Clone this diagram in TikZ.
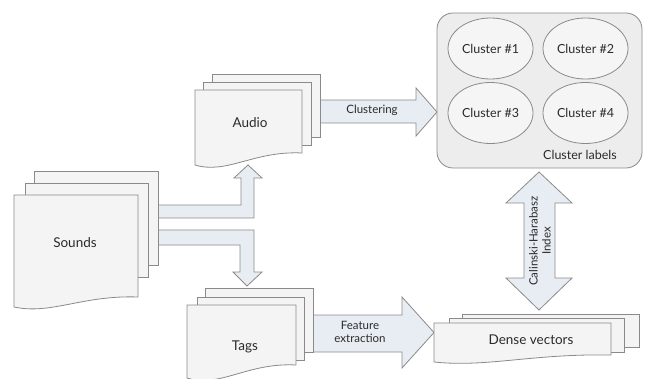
\documentclass[tikz,border=0pt]{standalone}
\usepackage{fontspec}
\setmainfont{Lato}
\usetikzlibrary{shapes.geometric}
\definecolor{pagefill}{HTML}{F4F4F4}
\definecolor{edge}{HTML}{8A8A8A}
\definecolor{arrowfill}{HTML}{E8EDF3}
\definecolor{boxfill}{HTML}{EDEDED}
\definecolor{ellfill}{HTML}{F5F5F5}
\definecolor{txt}{HTML}{2A2A2A}
\newcommand\backpage[4]{\path[pagestyle] (#1,#2) rectangle (#3,#4);}
\newcommand\frontpage[5]{\path[pagestyle] (#1,#2) -- (#3,#2) -- (#3,{#4-#5})
  .. controls ({#1+0.55*(#3-#1)},{#4-1.2*#5}) and ({#1+0.3*(#3-#1)},{#4+0.8*#5}) .. (#1,#4) -- cycle;}
\begin{document}
\begin{tikzpicture}[x=1pt,y=-1pt,
  pagestyle/.style={draw=edge,fill=pagefill,line width=0.8pt},
  blockarrow/.style={draw=edge,fill=arrowfill,line width=0.8pt,line join=miter},
  lbl/.style={text=txt,font=\fontsize{13.5}{15}\selectfont,inner sep=0pt},
  albl/.style={text=txt,font=\fontsize{11.5}{13}\selectfont,inner sep=0pt,align=center},
  clus/.style={ellipse,draw=edge,fill=ellfill,line width=0.8pt,minimum width=85pt,minimum height=61pt,inner sep=0pt,text=txt,font=\fontsize{12.5}{14}\selectfont}]
\useasboundingbox (0,0) rectangle (647,379);
% block arrows
\path[blockarrow] (156,205) -- (241,205) -- (241,178) -- (234,178) -- (248,165) -- (262,178) -- (254,178) -- (254,218) -- (156,218) -- cycle;
\path[blockarrow] (156,230) -- (254,230) -- (254,272) -- (262,272) -- (247,286) -- (233,272) -- (240,272) -- (240,245) -- (156,245) -- cycle;
\path[blockarrow] (318,100) -- (416,100) -- (416,88) -- (437,112) -- (416,136) -- (416,123) -- (318,123) -- cycle;
\path[blockarrow] (311,315) -- (402,315) -- (402,297) -- (434,332.5) -- (402,368) -- (402,352) -- (311,352) -- cycle;
\path[blockarrow] (524,203) -- (506,203) -- (539,172) -- (572,203) -- (555,203) -- (555,278) -- (572,278) -- (539,310) -- (506,278) -- (524,278) -- cycle;
% Sounds
\backpage{34}{171}{158}{265}
\backpage{25}{183}{148}{277}
\frontpage{14}{195}{138}{307}{10}
\node[lbl] (sounds) at (75,243) {Sounds};
% Audio
\backpage{212}{74}{320}{137}
\backpage{203}{82}{311}{145}
\frontpage{195}{90}{302}{165}{12}
\node[lbl] (audio) at (250,123) {Audio};
% Tags
\backpage{205}{288}{313}{352}
\backpage{197}{297}{304}{360}
\frontpage{187}{305}{296}{378}{13}
\node[lbl] (tags) at (245,347) {Tags};
% Dense vectors
\backpage{462}{314}{639}{347}
\backpage{449}{318}{624}{352}
\frontpage{434}{323}{611}{362}{7}
\node[lbl] (dense) at (531,340) {Dense vectors};
% Cluster box
\draw[draw=edge,fill=boxfill,line width=0.8pt,rounded corners=16pt] (437,13) rectangle (642,168);
\node[clus] (c1) at (490.5,48.5) {Cluster \#1};
\node[clus] (c2) at (585.5,48.5) {Cluster \#2};
\node[clus] (c3) at (490.5,113) {Cluster \#3};
\node[clus] (c4) at (585.5,113) {Cluster \#4};
\node[lbl,font=\fontsize{12.5}{14}\selectfont] (clabels) at (580,155) {Cluster labels};
% arrow labels
\node[albl] (clustering) at (372,110) {Clustering};
\node[albl] (feature) at (360,332) {Feature\\extraction};
\node[albl,rotate=90] (chi) at (540,241) {Calinski-Harabasz\\Index};
\end{tikzpicture}
\end{document}
